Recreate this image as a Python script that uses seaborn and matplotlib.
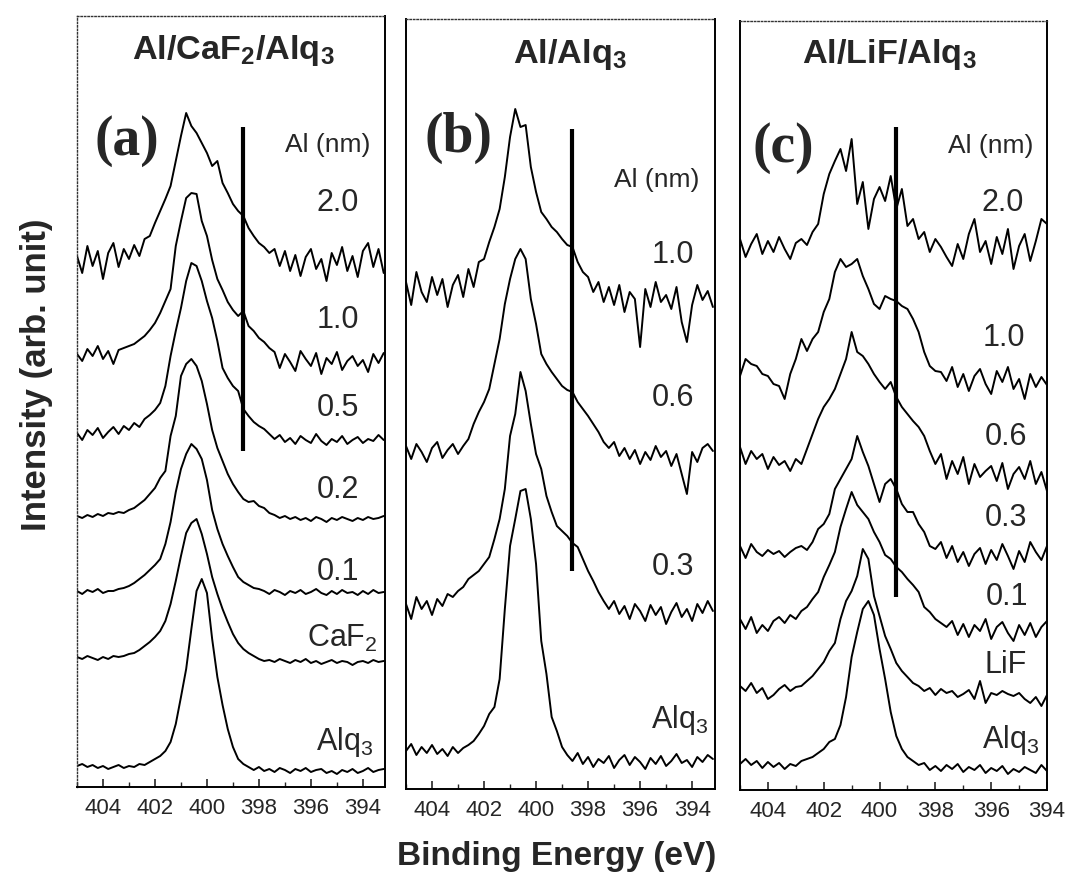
import numpy as np
import pandas as pd
import matplotlib
matplotlib.use("Agg")
import matplotlib.pyplot as plt
from matplotlib import font_manager as fm
from matplotlib.ticker import MultipleLocator, FixedLocator, FixedFormatter
import seaborn as sns

# ---------------- data (intensities in arb. units) -------------
energy_ab = np.round(np.arange(405.0, 393.1, -0.2), 1)   # panels (a), (b)
energy_c = np.round(np.arange(405.0, 393.9, -0.2), 1)    # panel (c)

# panel (a) Al/CaF2/Alq3 : heights above each curve's own baseline
a_names = ["2.0", "1.0", "0.5", "0.2", "0.1", "CaF2", "Alq3"]
a_offsets = [526, 431, 351, 271, 195, 128, 18]
a_20 = [5,-12,15,-5,10,-18,8,18,-6,12, 2,16,5,22,25,38,50,62,75,100,
        125,148,135,128,118,108,95,100,78,68, 57,50,45,33,25,18,14,8,12,-5,
        10,-10,6,-15,4,12,-8,2,-20,8, -4,14,-10,5,-16,10,18,-6,12,-12]
a_10 = [2,-5,7,0,10,-3,5,-8,6,8, 10,12,16,20,26,33,43,55,67,110,
        135,158,163,162,135,120,96,77,66,54, 46,40,45,30,25,18,14,8,4,-12,
        2,-6,-15,5,-3,-10,3,-18,-2,-8, 4,-14,-5,0,-10,-4,-16,2,-7,3]
a_05 = [3,-4,6,1,8,-2,4,9,2,10, 6,13,9,17,21,26,33,50,80,105,
        128,155,173,170,155,135,118,95,68,58, 50,45,27,20,14,10,7,2,-3,1,
        -6,-2,-8,0,-4,-7,2,-5,-9,-3, -6,0,-8,-4,-1,-7,-3,-5,1,-4]
a_02 = [0,-2,1,-1,2,0,3,2,4,3, 6,8,12,16,22,28,38,45,80,100,
        140,152,157,150,135,112,86,68,55,42, 32,24,17,14,15,10,8,3,1,-2,
        0,-3,-1,-4,-2,-5,-1,-3,-6,-2, -4,-1,-3,-5,-2,-4,-1,-3,-2,0]
a_01 = [1,-2,2,0,3,-1,1,1,3,4, 6,9,13,17,22,27,33,48,70,100,
        123,138,148,143,133,112,82,63,48,36, 25,15,10,7,4,3,1,-2,2,0,
        -3,1,-1,2,-2,0,3,-1,-3,1, -2,2,-1,0,-3,1,-2,2,-1,0]
a_caf2 = [2,0,3,1,-1,2,0,3,2,3, 5,6,9,13,17,22,28,38,55,78,
          103,126,136,140,125,105,82,65,50,37, 25,16,10,6,3,0,-2,-1,-3,0,
          -2,-4,-1,-3,0,-4,-2,-5,-3,-1, -4,-2,-3,-6,-3,-2,-4,-1,-3,-2]
a_alq3 = [3,5,2,4,1,3,0,2,4,1, 3,2,5,4,7,10,13,18,27,45,
          72,100,140,178,190,176,130,92,64,40, 22,10,5,2,-1,2,-2,0,-3,1,
          -1,-4,0,-2,1,-3,-1,0,-4,-2, -5,-1,-3,0,-4,-2,1,-3,-1,0]

# panel (b) Al/Alq3
b_names = ["1.0", "0.6", "0.3", "Alq3"]
b_offsets = [492, 335, 180, 30]
b_10 = [15,-8,25,5,-5,20,2,18,-10,12, 22,0,28,10,35,38,55,70,88,120,
        160,188,170,172,130,105,85,78,70,65, 58,52,50,35,25,20,5,15,-5,10,
        -8,12,-15,5,-2,-50,8,-10,15,-5, 2,-12,10,-25,-45,-8,12,-3,6,-10]
b_06 = [8,-5,10,2,-8,6,12,-4,4,10, 0,8,15,30,42,52,65,90,115,150,
        175,195,205,195,155,130,100,90,82,75, 68,64,62,52,45,38,30,22,12,6,
        12,-2,6,-5,4,-10,2,-6,8,-3, 3,-12,0,-20,-40,2,-8,6,10,3]
b_03 = [5,-10,12,0,8,-6,10,3,15,12, 18,22,30,34,38,45,52,70,90,120,
        173,195,237,218,185,155,140,113,97,83, 78,73,66,62,50,38,28,17,8,0,
        8,-5,3,-10,5,-2,-12,4,-6,2, -15,-3,6,-8,0,-12,5,-4,8,-2]
b_alq3 = [8,15,4,12,6,14,5,10,3,12, 6,11,14,18,25,33,45,52,80,150,
          213,240,268,270,240,195,118,85,42,28, 12,4,-2,6,-5,2,-8,0,-4,3,
          -9,-1,4,-6,2,-3,-10,1,-5,3, -7,-2,5,-4,-1,-8,2,-3,4,0]

# panel (c) Al/LiF/Alq3
c_names = ["2.0", "1.0", "0.6", "0.3", "0.1", "LiF", "Alq3"]
c_offsets = [541, 411, 321, 236, 163, 99, 23]
c_20 = [10,-8,5,15,-5,8,-3,12,0,-10, 6,10,4,17,25,55,75,88,100,78,
        110,45,67,20,50,62,48,73,40,60, 23,30,10,17,-3,10,2,-8,-17,5,
        -10,15,30,-3,8,-15,12,-5,20,-20, 3,15,-12,8,30,25]
c_10 = [3,20,15,13,5,3,-5,-7,-20,5, 20,40,28,40,47,67,80,107,120,112,
        115,120,103,90,75,70,83,80,78,73, 70,60,47,27,13,8,7,-2,12,-8,
        5,-12,3,10,-5,-15,8,-3,12,-10, 0,-20,5,-8,2,-6]
c_06 = [22,5,18,10,15,0,12,4,8,-2, 10,5,20,35,50,62,70,80,95,110,
        137,117,113,105,95,87,80,87,72,62, 55,48,42,33,18,5,15,-10,8,-5,
        12,-15,5,-8,-2,3,-12,6,-20,-5, 2,-10,8,-15,-3,-22]
c_03 = [8,-4,10,2,-2,4,0,3,-3,2, 6,8,4,12,25,30,40,65,75,85,
        95,118,102,88,70,52,70,75,65,50, 42,42,30,22,8,5,12,-4,8,-8,
        2,-12,0,6,-10,4,-6,10,-2,-15, 3,-8,12,2,-6,8]
c_01 = [8,-2,10,-6,2,-4,6,10,4,12, 8,16,20,28,35,50,62,75,100,118,
        135,122,115,108,95,85,72,68,60,55, 48,42,35,20,15,8,4,0,6,-8,
        3,-10,2,-4,8,-12,0,5,-6,-14, 2,-8,4,-10,0,6]
c_lif = [5,0,8,-2,3,-8,-4,2,6,0, 4,5,10,15,22,29,40,48,72,90,
         100,115,142,132,95,75,55,42,28,20, 14,8,5,0,3,-4,2,-2,0,-6,
         -3,1,-8,10,-12,-2,-4,0,-3,-5, -2,-8,-12,-6,-15,-4]
c_alq3 = [3,8,2,6,-1,5,0,4,-2,3, 1,6,8,10,14,18,25,28,42,70,
          110,135,158,166,152,118,88,55,31,18, 10,6,2,4,-3,1,-4,2,-2,3,
          -5,0,-3,2,-6,-1,-4,1,-7,-2, -5,0,-3,-6,2,-4]

# vertical marker lines (energy, lower and upper intensity)
marker_energy = [398.6, 398.6, 399.4]
marker_low = [336, 218, 193]
marker_high = [660, 660, 663]

tick_values = [404, 402, 400, 398, 396, 394]
tick_labels = ["404", "402", "400", "398", "396", "394"]
titles = ["Al/CaF$_2$/Alq$_3$", "Al/Alq$_3$", "Al/LiF/Alq$_3$"]
panel_tags = ["(a)", "(b)", "(c)"]
pretty = {"CaF2": "CaF$_2$", "Alq3": "Alq$_3$", "LiF": "LiF"}

# ---------------- style ----------------
sns.set_style("white")
plt.rcParams["font.family"] = ["Liberation Sans", "DejaVu Sans"]
plt.rcParams["mathtext.default"] = "regular"

names_installed = {f.name for f in fm.fontManager.ttflist}
if "Liberation Sans Narrow" in names_installed:
    NARROW, SCALE = "Liberation Sans Narrow", 1.0
else:
    NARROW, SCALE = "Liberation Sans", 0.88

fig = plt.figure(figsize=(10.70, 8.87), dpi=100)

panels = [
    dict(rect=[77/1070, 99/887, 308/1070, 771/887], xlim=(405.0, 393.15), ylim=(0, 771),
         energy=energy_ab, names=a_names, offsets=a_offsets,
         series=[a_20, a_10, a_05, a_02, a_01, a_caf2, a_alq3],
         title_xy=(398.98, 738), tag_xy=(403.08, 647), unit_xy=(395.34, 643),
         label_xy=[(394.96, 585), (394.96, 468), (394.96, 380), (394.96, 298),
                   (394.96, 216), (394.77, 150), (394.69, 46)], dotted_left=True),
    dict(rect=[406/1070, 97/887, 309/1070, 770/887], xlim=(405.0, 393.12), ylim=(0, 770),
         energy=energy_ab, names=b_names, offsets=b_offsets,
         series=[b_10, b_06, b_03, b_alq3],
         title_xy=(398.69, 735), tag_xy=(403.0, 652), unit_xy=(395.35, 610),
         label_xy=[(394.73, 535), (394.73, 392), (394.73, 223), (394.46, 70)],
         dotted_left=False),
    dict(rect=[740/1070, 96/887, 307/1070, 769/887], xlim=(405.0, 394.0), ylim=(0, 769),
         energy=energy_c, names=c_names, offsets=c_offsets,
         series=[c_20, c_10, c_06, c_03, c_01, c_lif, c_alq3],
         title_xy=(399.66, 736), tag_xy=(403.46, 643), unit_xy=(396.0, 645),
         label_xy=[(395.58, 588), (395.54, 453), (395.47, 354), (395.47, 273),
                   (395.43, 194), (395.5, 126), (395.29, 51)], dotted_left=False),
]

for i, p in enumerate(panels):
    ax = fig.add_axes(p["rect"])
    frames = []
    for name, off, vals in zip(p["names"], p["offsets"], p["series"]):
        assert len(vals) == len(p["energy"]), (name, len(vals))
        frames.append(pd.DataFrame({"energy": p["energy"],
                                    "intensity": off + np.asarray(vals, float),
                                    "curve": name}))
    df = pd.concat(frames, ignore_index=True)
    sns.lineplot(data=df, x="energy", y="intensity", units="curve", estimator=None,
                 sort=False, color="black", linewidth=1.4, legend=False, ax=ax)

    ax.vlines(marker_energy[i], marker_low[i], marker_high[i], color="black", linewidth=3.0)

    ax.set_xlim(*p["xlim"])
    ax.set_ylim(*p["ylim"])
    ax.set_xlabel("")
    ax.set_ylabel("")
    ax.set_yticks([])
    ax.xaxis.set_major_locator(FixedLocator(tick_values))
    ax.xaxis.set_major_formatter(FixedFormatter(tick_labels))
    ax.xaxis.set_minor_locator(MultipleLocator(1))
    ax.tick_params(axis="x", which="major", direction="in", length=6, width=1.2,
                   labelsize=16, pad=7, bottom=True, top=False)
    ax.tick_params(axis="x", which="minor", direction="in", length=3.5, width=1.0,
                   bottom=True, top=False)
    for s in ax.spines.values():
        s.set_visible(True)
        s.set_color("black")
        s.set_linewidth(1.4)
    ax.spines["top"].set_linestyle((0, (1, 1.5)))
    ax.spines["top"].set_linewidth(1.0)
    ax.spines["top"].set_color("#333333")
    if p["dotted_left"]:
        ax.spines["left"].set_linestyle((0, (1, 1.5)))
        ax.spines["left"].set_linewidth(1.0)
        ax.spines["left"].set_color("#333333")

    ax.text(*p["title_xy"], titles[i], ha="center", va="center",
            fontfamily=NARROW, fontweight="bold", fontsize=28 * SCALE)
    ax.text(*p["tag_xy"], panel_tags[i], ha="center", va="center",
            fontfamily="Liberation Serif", fontweight="bold", fontsize=40)
    ax.text(*p["unit_xy"], "Al (nm)", ha="center", va="center",
            fontfamily="Liberation Sans", fontsize=19)
    for name, (lx, ly) in zip(p["names"], p["label_xy"]):
        ax.text(lx, ly, pretty.get(name, name), ha="center", va="center",
                fontfamily=NARROW, fontsize=25 * SCALE)

fig.text(37/1070, 1 - 375/887, "Intensity (arb. unit)", rotation=90, ha="center",
         va="center", fontsize=25, fontweight="bold", fontfamily="Liberation Sans")
fig.text(557/1070, 1 - 857/887, "Binding Energy (eV)", ha="center", va="center",
         fontsize=24, fontweight="bold", fontfamily="Liberation Sans")

fig.savefig("out.png", dpi=100, facecolor="white")
